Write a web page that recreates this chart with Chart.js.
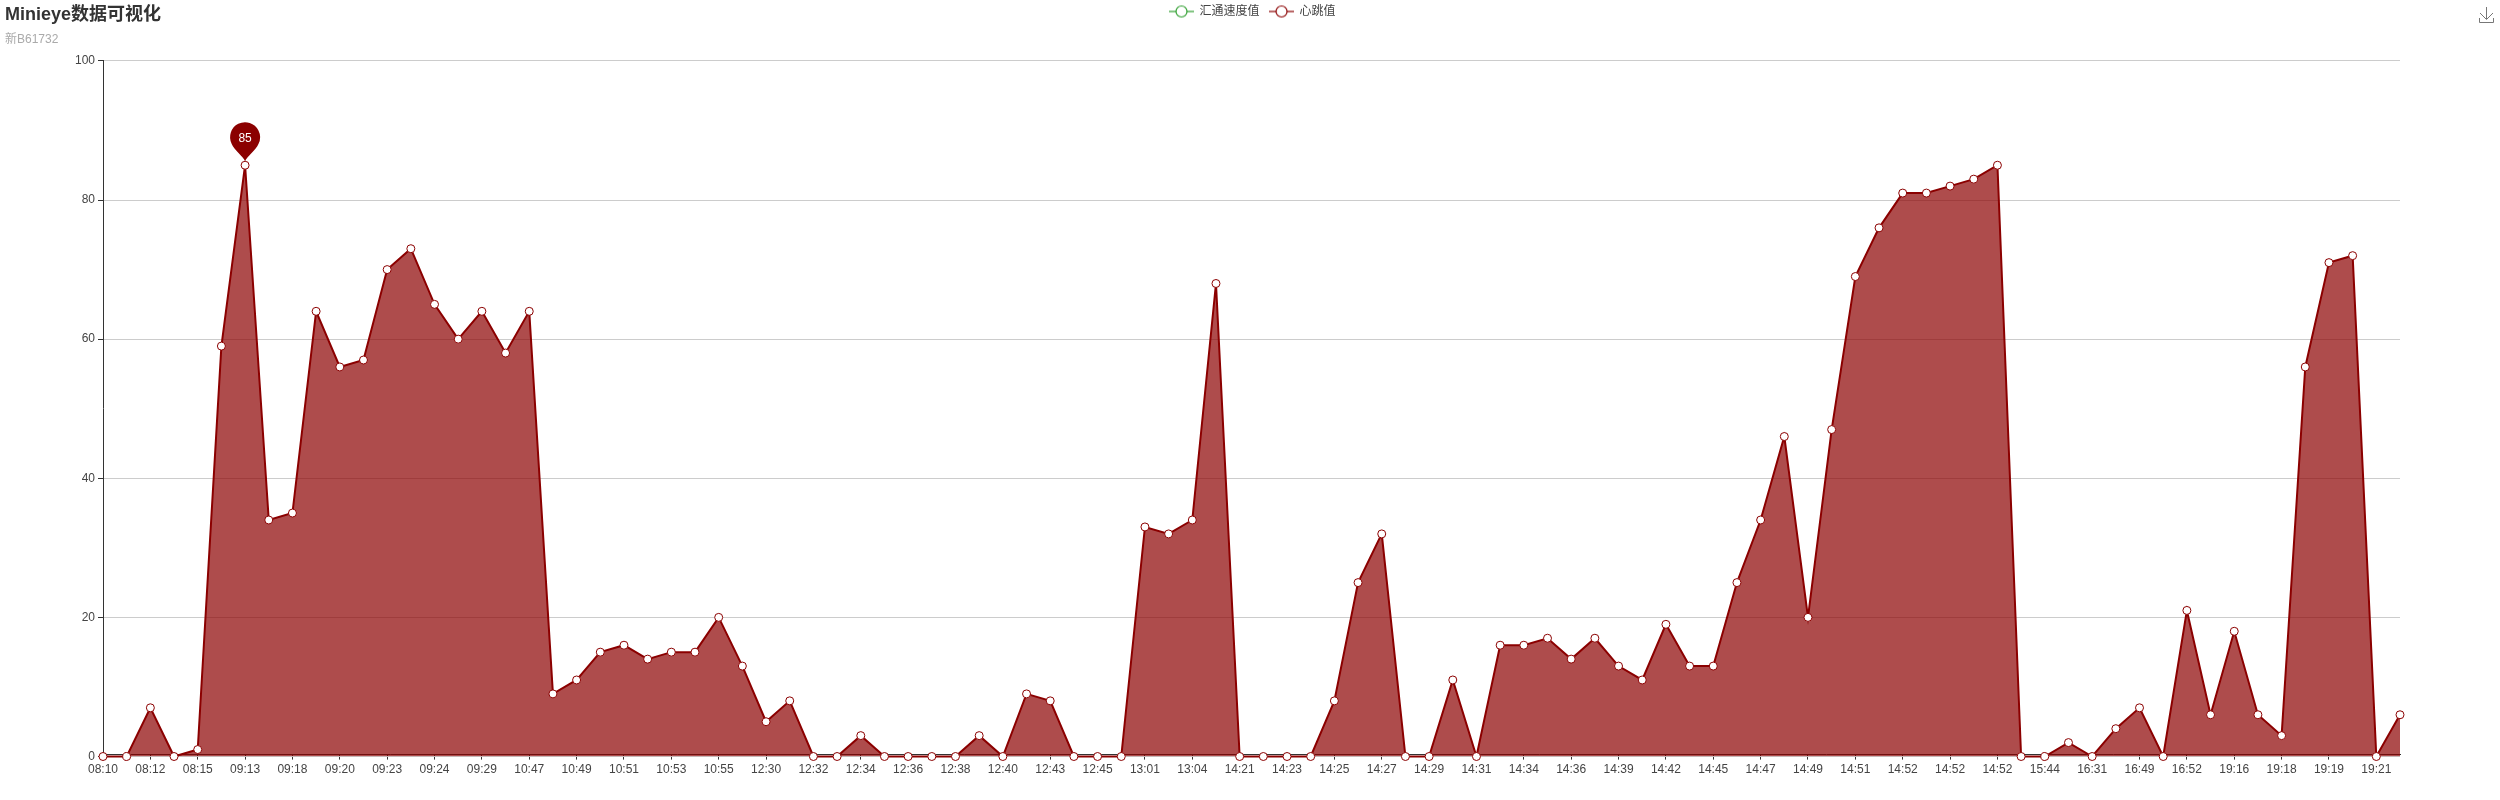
<!DOCTYPE html>
<html>
<head>
<meta charset="utf-8">
<style>html,body{margin:0;padding:0;background:#fff}canvas{display:block}</style>
<script src="https://cdn.jsdelivr.net/npm/chart.js@4"></script>
</head>
<body>
<canvas id="c" width="2500" height="800"></canvas>
<script>
const chartTitle = 'Minieye数据可视化';
const chartSubtitle = '新B61732';
const seriesNames = ['汇通速度值', '心跳值'];
const seriesColors = ['#2e9e2e', '#8b0000'];
const tickLabels = ['08:10','08:12','08:15','09:13','09:18','09:20','09:23','09:24','09:29','10:47','10:49','10:51','10:53','10:55','12:30','12:32','12:34','12:36','12:38','12:40','12:43','12:45','13:01','13:04','14:21','14:23','14:25','14:27','14:29','14:31','14:34','14:36','14:39','14:42','14:45','14:47','14:49','14:51','14:52','14:52','14:52','15:44','16:31','16:49','16:52','19:16','19:18','19:19','19:21'];
const speedValues = [];
const heartValues = [0,0,7,0,1,59,85,34,35,64,56,57,70,73,65,60,64,58,64,9,11,15,16,14,15,15,20,13,5,8,0,0,3,0,0,0,0,3,0,9,8,0,0,0,33,32,34,68,0,0,0,0,8,25,32,0,0,11,0,16,16,17,14,17,13,11,19,13,13,25,34,46,20,47,69,76,81,81,82,83,85,0,0,2,0,4,7,0,21,6,18,6,3,56,71,72,0,6];
const yTicks = [0,20,40,60,80,100];

const FONT = '"Liberation Sans","Noto Sans CJK SC",sans-serif';
const categories = heartValues.map((_, i) => i % 2 === 0 ? tickLabels[i / 2] : '');

function legendIcon(color) {
  const cv = document.createElement('canvas');
  cv.width = 25; cv.height = 14;
  const g = cv.getContext('2d');
  g.strokeStyle = color; g.lineWidth = 2; g.globalAlpha = 0.6;
  g.beginPath(); g.moveTo(0, 7); g.lineTo(25, 7); g.stroke();
  g.globalAlpha = 1; g.lineWidth = 1.2; g.fillStyle = '#fff';
  g.beginPath(); g.arc(12.5, 7, 5.5, 0, Math.PI * 2); g.fill(); g.stroke();
  return cv;
}

const pinPlugin = {
  id: 'pin',
  afterDatasetsDraw(chart) {
    const ds = chart.data.datasets[1].data;
    const maxV = Math.max(...ds);
    const idx = ds.indexOf(maxV);
    const x = chart.scales.x.getPixelForValue(idx);
    const y = chart.scales.y.getPixelForValue(maxV);
    const g = chart.ctx, cy = y - 28, r = 15;
    g.save();
    g.fillStyle = seriesColors[1];
    g.beginPath();
    g.arc(x, cy, r, Math.PI * 0.85, Math.PI * 0.15);
    g.bezierCurveTo(x + 11, cy + 13, x + 2, cy + 19, x, y - 4);
    g.bezierCurveTo(x - 2, cy + 19, x - 11, cy + 13, x - r * Math.cos(Math.PI * 0.15), cy + r * Math.sin(Math.PI * 0.15));
    g.closePath();
    g.fill();
    g.fillStyle = '#fff';
    g.font = '12px ' + FONT;
    g.textAlign = 'center';
    g.textBaseline = 'middle';
    g.fillText(String(maxV), x, cy + 1);
    g.restore();
  }
};

const toolboxPlugin = {
  id: 'toolbox',
  afterDraw(chart) {
    const g = chart.ctx, x = chart.width - 14;
    g.save();
    g.strokeStyle = '#777'; g.lineWidth = 1;
    g.beginPath();
    g.moveTo(x + .5, 7); g.lineTo(x + .5, 19);
    g.moveTo(x - 6, 13); g.lineTo(x + .5, 19.5); g.lineTo(x + 7, 13);
    g.moveTo(x - 6.5, 18); g.lineTo(x - 6.5, 22.5); g.lineTo(x + 7.5, 22.5); g.lineTo(x + 7.5, 18);
    g.stroke();
    g.restore();
  }
};

new Chart(document.getElementById('c'), {
  type: 'line',
  data: {
    labels: categories,
    datasets: [
      { label: seriesNames[0], data: speedValues, borderColor: seriesColors[0], backgroundColor: '#fff' },
      {
        label: seriesNames[1], data: heartValues, borderColor: seriesColors[1], borderWidth: 2,
        fill: 'origin', backgroundColor: 'rgba(139,0,0,0.7)', tension: 0, clip: false,
        pointRadius: 4, pointBorderWidth: 1, pointBackgroundColor: '#fff', pointBorderColor: seriesColors[1]
      }
    ]
  },
  plugins: [pinPlugin, toolboxPlugin],
  options: {
    responsive: false,
    devicePixelRatio: 1,
    animation: false,
    layout: { padding: { left: 5, right: 0, top: -4.5, bottom: 0 } },
    font: { family: FONT },
    plugins: {
      tooltip: { enabled: false },
      legend: {
        display: true, position: 'top', align: 'center', weight: 3000,
        onClick: null,
        labels: {
          usePointStyle: true, pointStyleWidth: 24, padding: 10,
          color: '#444', font: { size: 12, family: FONT },
          generateLabels(chart) {
            return chart.data.datasets.map((d, i) => ({
              text: d.label, datasetIndex: i, fontColor: '#444', lineWidth: 0,
              strokeStyle: 'transparent', fillStyle: 'transparent',
              pointStyle: legendIcon(seriesColors[i])
            }));
          }
        }
      },
      title: {
        display: true, text: chartTitle, align: 'start', color: '#333',
        font: { size: 18, weight: 'bold', family: FONT, lineHeight: 1.2 },
        padding: { top: -23.5, bottom: 0 }
      },
      subtitle: {
        display: true, text: chartSubtitle, align: 'start', color: '#aaa',
        font: { size: 12, family: FONT, lineHeight: 1.2 },
        padding: { top: 7, bottom: 12 }
      }
    },
    scales: {
      x: {
        type: 'category', offset: false,
        grid: { display: true, drawOnChartArea: false, tickLength: 5, color: '#333', tickColor: '#333' },
        border: { display: true, color: '#333', width: 1 },
        ticks: {
          autoSkip: false, maxRotation: 0, minRotation: 0, padding: 3, color: '#444',
          font: { size: 12, family: FONT }
        },
        afterBuildTicks(axis) { axis.ticks = axis.ticks.filter((t, i) => i % 2 === 0); },
        afterFit(axis) { axis.height = 43.5; axis.paddingRight = 100; axis.paddingLeft = 0; }
      },
      y: {
        min: 0, max: 100,
        grid: { color: '#ccc', tickColor: '#333', tickLength: 5, lineWidth: 1 },
        border: { display: true, color: '#333', width: 1 },
        ticks: {
          stepSize: yTicks[1] - yTicks[0], padding: 3, color: '#444',
          font: { size: 12, family: FONT }
        },
        afterFit(axis) { axis.width = 98; }
      }
    }
  }
});
</script>
</body>
</html>
